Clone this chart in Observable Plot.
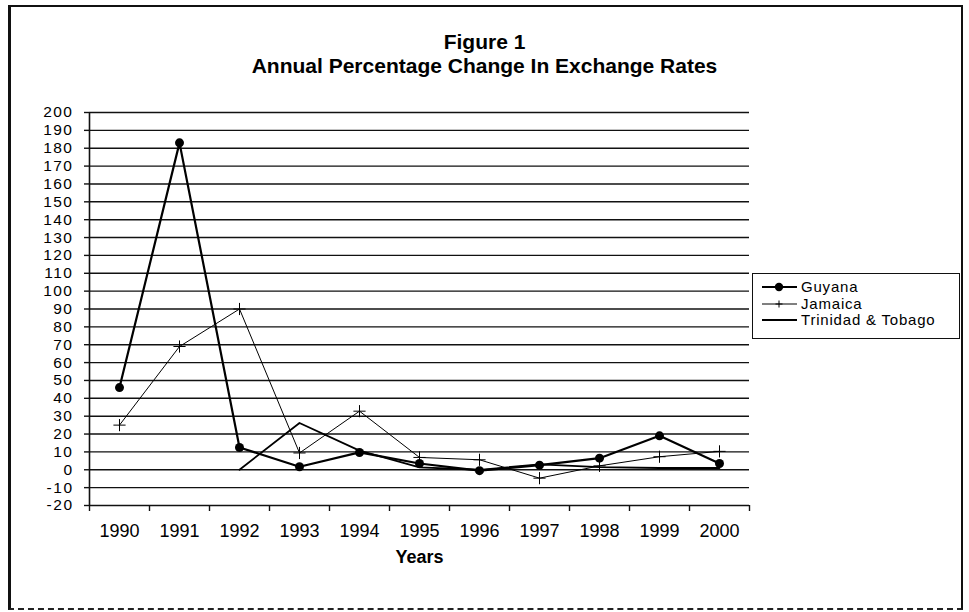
<!DOCTYPE html>
<html>
<head>
<meta charset="utf-8">
<script src="https://cdn.jsdelivr.net/npm/d3@7"></script>
<script src="https://cdn.jsdelivr.net/npm/@observablehq/plot@0.6"></script>
<style>
  html, body { margin: 0; padding: 0; background: #fff; }
  #wrap { position: relative; width: 969px; height: 612px; overflow: hidden; font-family: "Liberation Sans", Arial, sans-serif; color: #000; }
  #frame { position: absolute; left: 8px; top: 5px; width: 950px; height: 601px;
           border-left: 3px solid #111; border-top: 2px solid #111; border-right: 2px solid #111; border-bottom: 2px dashed #222; }
  #title { position: absolute; left: 0; top: 30px; width: 969px; text-align: center; font-weight: bold; font-size: 21px; line-height: 24px; }
  #chart { position: absolute; left: 0; top: 0; }
  #legend { position: absolute; left: 752px; top: 273px; width: 206px; height: 64px; border: 1.5px solid #111; background: #fff;
            font-size: 15px; letter-spacing: 0.8px; }
  .row { position: absolute; left: 8px; height: 16px; line-height: 16px; display: flex; align-items: center; white-space: nowrap; }
  .row svg { margin-right: 3px; }
  .ytick text { letter-spacing: 1.5px; }
</style>
</head>
<body>
<div id="wrap">
  <div id="frame"></div>
  <div id="title">Figure 1<br>Annual Percentage Change In Exchange Rates</div>
  <div id="chart"></div>
  <div id="legend"></div>
</div>
<script>
// ---- data ----
const years = [1990, 1991, 1992, 1993, 1994, 1995, 1996, 1997, 1998, 1999, 2000];
const guyana   = [46, 183, 12.5, 1.7, 9.7, 3.5, -0.5, 2.6, 6.5, 19, 3.5];
const jamaica  = [25, 69, 90, 9.4, 32.8, 6.9, 5.6, -4.7, 2.2, 7.3, 10.3];
const trinidad = [null, null, 0, 26.2, 10.7, 1.3, 0, 3, 1.5, 1, 1];
const seriesNames = ["Guyana", "Jamaica", "Trinidad & Tobago"];
const yTicks = [-20, -10, 0, 10, 20, 30, 40, 50, 60, 70, 80, 90, 100, 110, 120, 130, 140, 150, 160, 170, 180, 190, 200];
const xLabel = "Years";

// ---- tables built from the arrays ----
const toRows = (vals) => years.map((year, i) => ({year, value: vals[i]})).filter(d => d.value != null);
const guyanaRows = toRows(guyana);
const jamaicaRows = toRows(jamaica);
const trinidadRows = toRows(trinidad);
const boundaries = [years[0] - 0.5, ...years.map(y => y + 0.5)];

const chart = Plot.plot({
  width: 969,
  height: 612,
  marginLeft: 89,
  marginRight: 220,
  marginTop: 112,
  marginBottom: 107,
  style: {fontFamily: "'Liberation Sans', Arial, sans-serif", fontSize: "18px", color: "#000", background: "transparent", overflow: "visible"},
  x: {domain: [boundaries[0], boundaries[boundaries.length - 1]]},
  y: {domain: [yTicks[0], yTicks[yTicks.length - 1]]},
  marks: [
    Plot.ruleY(yTicks, {stroke: "#111", strokeWidth: 1.4}),
    Plot.ruleX([boundaries[0]], {stroke: "#111", strokeWidth: 1.6}),
    Plot.axisY({ticks: yTicks, tickSize: 5, tickPadding: 11, tickFormat: d => String(d), fontSize: 15.5, stroke: "#111", strokeWidth: 1.4, label: null, className: "ytick"}),
    Plot.axisX({ticks: boundaries, tickSize: 6, tickFormat: () => "", stroke: "#111", strokeWidth: 1.4, label: null}),
    Plot.axisX({ticks: years, tickSize: 0, tickPadding: 19, tickFormat: d => String(d), fontSize: 18, label: null}),
    Plot.line(trinidadRows, {x: "year", y: "value", stroke: "#000", strokeWidth: 1.8}),
    Plot.line(jamaicaRows, {x: "year", y: "value", stroke: "#000", strokeWidth: 1}),
    Plot.dot(jamaicaRows, {x: "year", y: "value", symbol: "plus", r: 4, stroke: "#000", strokeWidth: 1}),
    Plot.line(guyanaRows, {x: "year", y: "value", stroke: "#000", strokeWidth: 2.2}),
    Plot.dot(guyanaRows, {x: "year", y: "value", r: 4.5, fill: "#000", stroke: "none"}),
    Plot.text([xLabel], {frameAnchor: "bottom", dy: 57, fontWeight: "bold", fontSize: 18, fill: "#000"})
  ]
});
document.getElementById("chart").appendChild(chart);

// ---- legend ----
const legend = document.getElementById("legend");
const swatch = (kind) => {
  let s = `<svg width="37" height="12" viewBox="0 0 37 12">`;
  if (kind === 0) {
    s += `<line x1="1" y1="6" x2="36" y2="6" stroke="#000" stroke-width="2.2"/><circle cx="18" cy="6" r="4.2" fill="#000"/>`;
  } else if (kind === 1) {
    s += `<line x1="1" y1="6" x2="36" y2="6" stroke="#000" stroke-width="1"/><path d="M18,2.5V9.5M14.5,6H21.5" stroke="#000" stroke-width="1"/>`;
  } else {
    s += `<line x1="1" y1="6" x2="36" y2="6" stroke="#000" stroke-width="1.8"/>`;
  }
  return s + `</svg>`;
};
seriesNames.forEach((name, i) => {
  const row = document.createElement("div");
  row.className = "row";
  row.style.top = (5 + i * 16.5) + "px";
  row.innerHTML = swatch(i) + `<span>${name}</span>`;
  legend.appendChild(row);
});
</script>
</body>
</html>
